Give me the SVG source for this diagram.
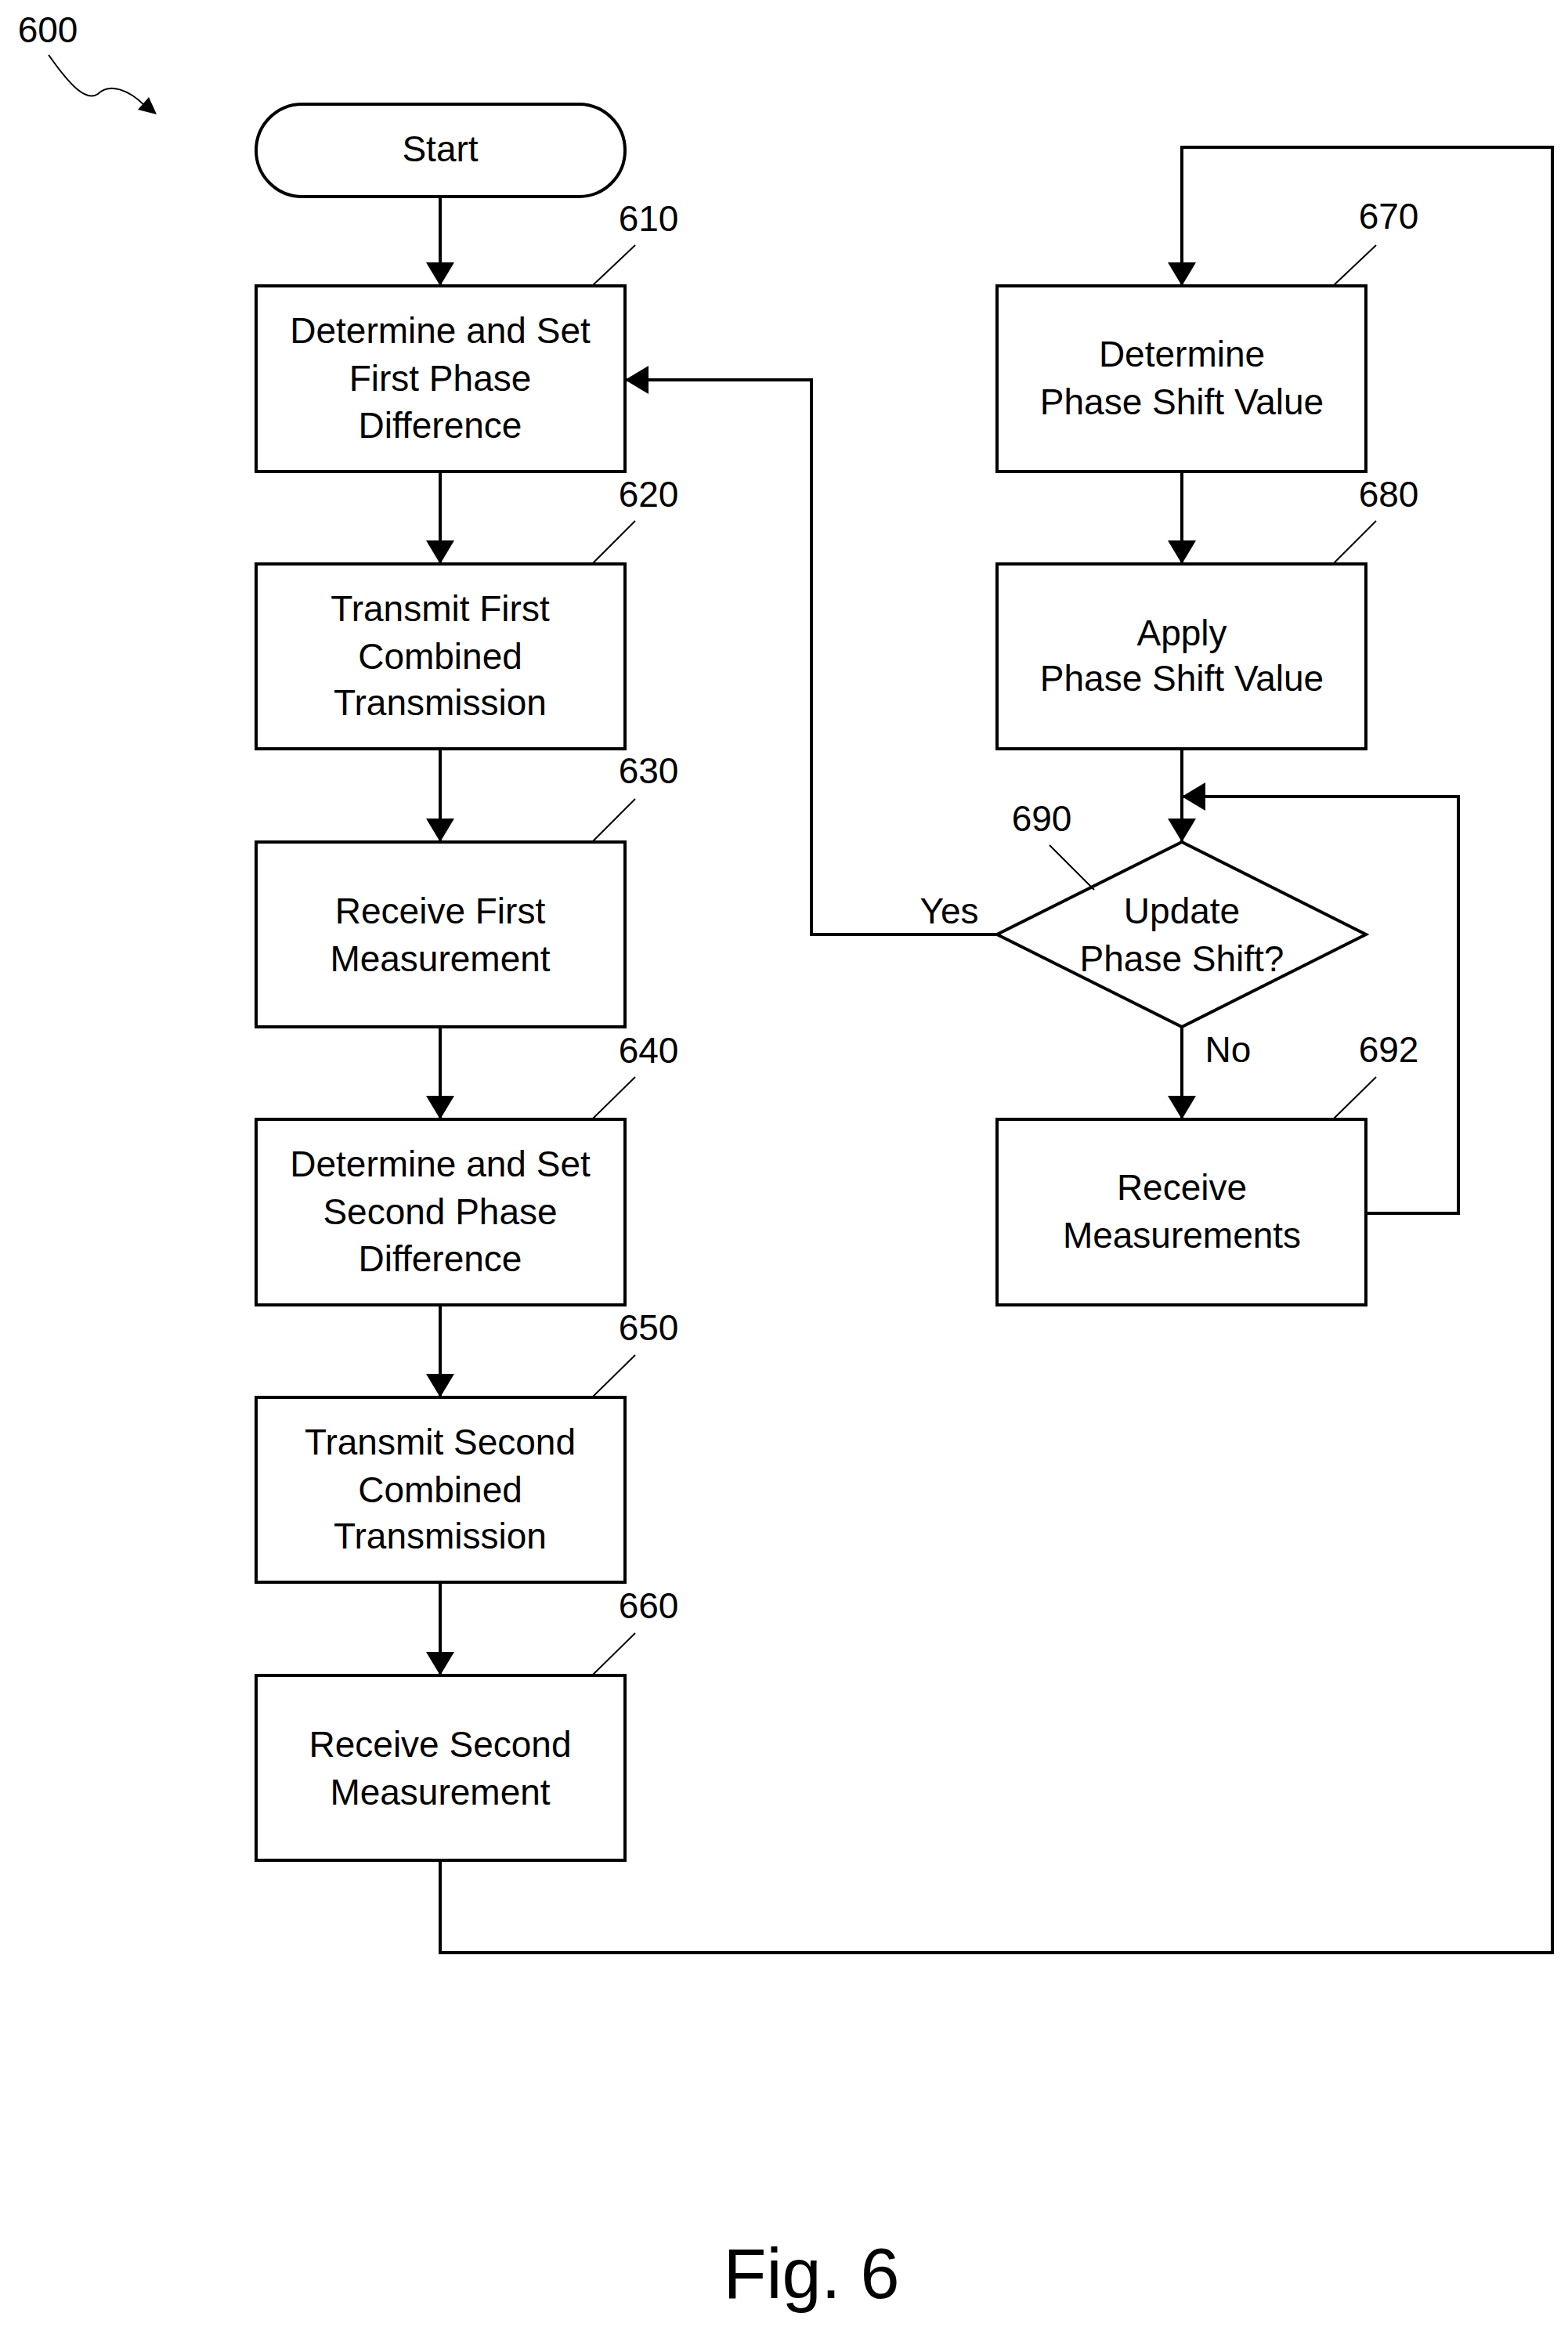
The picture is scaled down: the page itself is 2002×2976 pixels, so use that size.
<svg xmlns="http://www.w3.org/2000/svg" width="2002" height="2976" viewBox="0 0 2002 2976">
<style>
text{font-family:"Liberation Sans",Arial,sans-serif;font-size:46px;fill:#000;text-anchor:middle;dominant-baseline:central}
.n{text-anchor:start}
.s{fill:#fff;stroke:#000;stroke-width:4}
.c{fill:none;stroke:#000;stroke-width:4}
.l{fill:none;stroke:#000;stroke-width:2}
</style>
<defs><marker id="a" markerWidth="10" markerHeight="10" refX="10" refY="5" orient="auto" markerUnits="userSpaceOnUse" viewBox="0 0 10 10"><path d="M0,0L10,5L0,10z"/></marker>
<marker id="b" viewBox="0 0 10 10" refX="10" refY="5" markerWidth="30" markerHeight="36" orient="auto" markerUnits="userSpaceOnUse" preserveAspectRatio="none"><path d="M0,0L10,5L0,10z"/></marker></defs>
<g id="label600"><text x="61" y="38">600</text><path class="l" d="M62,70 C90,110 110,130 125,120 C140,105 165,115 185,135"/><path d="M200,146 L176,140 L190,124z"/></g>
<g id="connectors">
<path class="c" d="M562,251V365" marker-end="url(#b)"/>
<path class="c" d="M562,602V720" marker-end="url(#b)"/>
<path class="c" d="M562,956V1075" marker-end="url(#b)"/>
<path class="c" d="M562,1311V1429" marker-end="url(#b)"/>
<path class="c" d="M562,1666V1784" marker-end="url(#b)"/>
<path class="c" d="M562,2020V2139" marker-end="url(#b)"/>
<path class="c" d="M562,2375V2493H1982V188H1509V365" marker-end="url(#b)"/>
<path class="c" d="M1509,602V720" marker-end="url(#b)"/>
<path class="c" d="M1509,956V1075" marker-end="url(#b)"/>
<path class="c" d="M1273,1193H1036V485H798" marker-end="url(#b)"/>
<path class="c" d="M1509,1311V1429" marker-end="url(#b)"/>
<path class="c" d="M1744,1549H1862V1017H1509" marker-end="url(#b)"/>
<text x="1212" y="1163">Yes</text><text x="1568" y="1340">No</text>
</g>
<g id="start"><rect class="s" x="327" y="133" width="471" height="118" rx="59"/><text x="562" y="190">Start</text></g>
<g id="n610"><rect class="s" x="327" y="365" width="471" height="237"/><text x="562" y="422">Determine and Set</text><text x="562" y="483">First Phase</text><text x="562" y="543">Difference</text><text x="828" y="279">610</text><path class="l" d="M811,313L756,365"/></g>
<g id="n620"><rect class="s" x="327" y="720" width="471" height="236"/><text x="562" y="777">Transmit First</text><text x="562" y="838">Combined</text><text x="562" y="897">Transmission</text><text x="828" y="631">620</text><path class="l" d="M811,665L756,720"/></g>
<g id="n630"><rect class="s" x="327" y="1075" width="471" height="236"/><text x="562" y="1163">Receive First</text><text x="562" y="1224">Measurement</text><text x="828" y="984">630</text><path class="l" d="M811,1020L756,1075"/></g>
<g id="n640"><rect class="s" x="327" y="1429" width="471" height="237"/><text x="562" y="1486">Determine and Set</text><text x="562" y="1547">Second Phase</text><text x="562" y="1607">Difference</text><text x="828" y="1341">640</text><path class="l" d="M811,1375L756,1429"/></g>
<g id="n650"><rect class="s" x="327" y="1784" width="471" height="236"/><text x="562" y="1841">Transmit Second</text><text x="562" y="1902">Combined</text><text x="562" y="1961">Transmission</text><text x="828" y="1695">650</text><path class="l" d="M811,1730L756,1784"/></g>
<g id="n660"><rect class="s" x="327" y="2139" width="471" height="236"/><text x="562" y="2227">Receive Second</text><text x="562" y="2288">Measurement</text><text x="828" y="2050">660</text><path class="l" d="M811,2085L756,2139"/></g>
<g id="n670"><rect class="s" x="1273" y="365" width="471" height="237"/><text x="1509" y="452">Determine</text><text x="1509" y="513">Phase Shift Value</text><text x="1773" y="276">670</text><path class="l" d="M1757,313L1702,365"/></g>
<g id="n680"><rect class="s" x="1273" y="720" width="471" height="236"/><text x="1509" y="808">Apply</text><text x="1509" y="866">Phase Shift Value</text><text x="1773" y="631">680</text><path class="l" d="M1757,665L1702,720"/></g>
<g id="n690"><path class="s" d="M1509,1075L1744,1193L1509,1311L1273,1193z"/><text x="1509" y="1163">Update</text><text x="1509" y="1224">Phase Shift?</text><text x="1330" y="1045">690</text><path class="l" d="M1340,1079L1397,1136"/></g>
<g id="n692"><rect class="s" x="1273" y="1429" width="471" height="237"/><text x="1509" y="1516">Receive</text><text x="1509" y="1577">Measurements</text><text x="1773" y="1340">692</text><path class="l" d="M1757,1375L1702,1429"/></g>
<text x="1036" y="2903" style="font-size:90px">Fig. 6</text>
</svg>
